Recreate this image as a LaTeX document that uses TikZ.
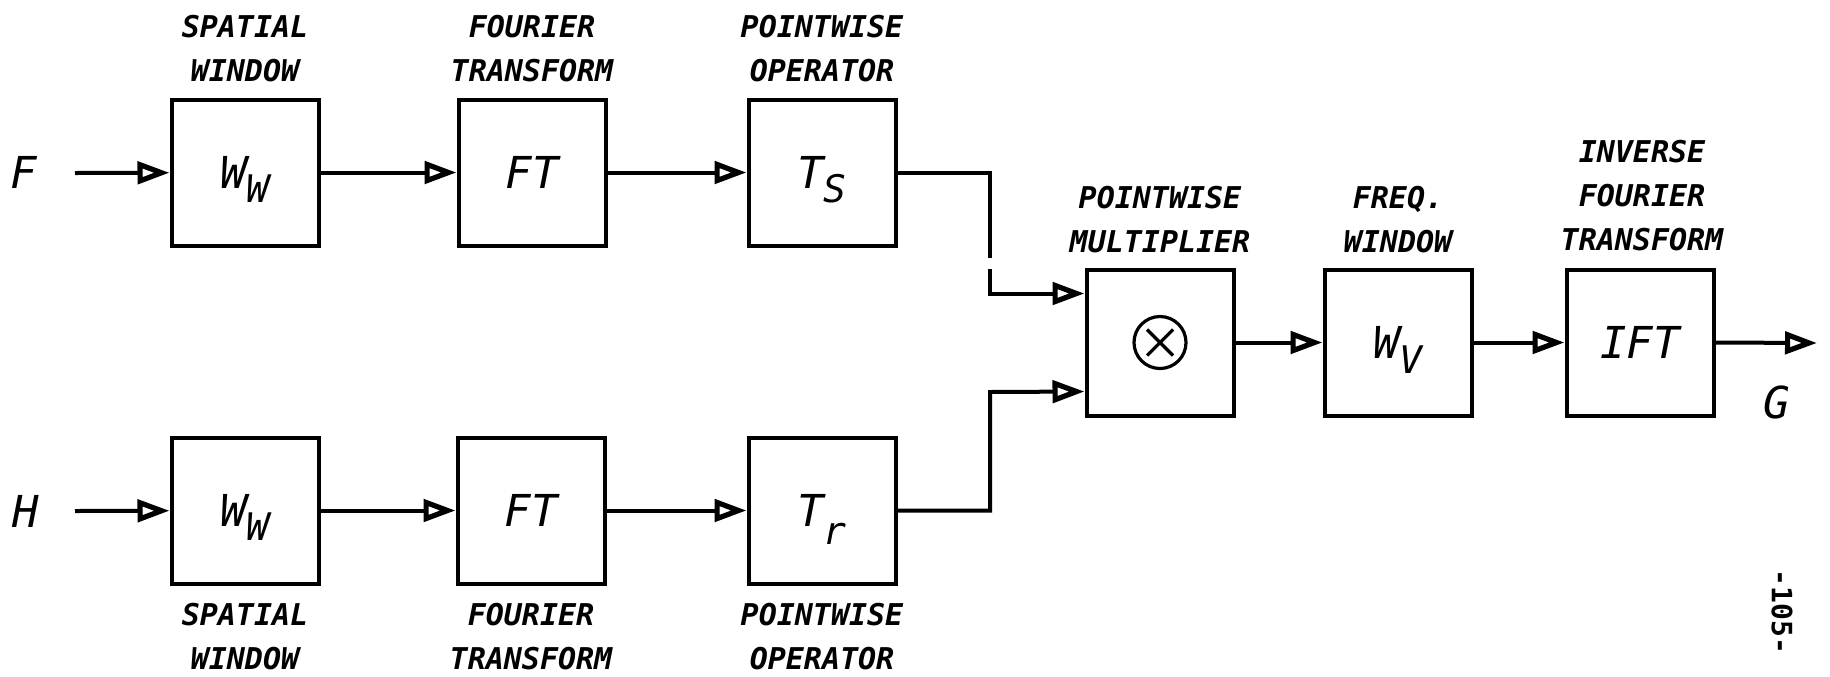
\documentclass[tikz,border=0pt]{standalone}
\usepackage{fontspec}
\usetikzlibrary{arrows.meta,calc}
\newfontfamily\monofam{DejaVu Sans Mono}
\newcommand\lblfnt{\monofam\bfseries\itshape\fontsize{15pt}{22pt}\selectfont}
\newcommand\bigfnt{\monofam\itshape\fontsize{22pt}{26pt}\selectfont}
\newcommand\subfnt{\monofam\itshape\fontsize{19pt}{22pt}\selectfont}
% lowered index that does not change the height of the main letter
\newcommand\lowidx[2][7pt]{\smash{\raisebox{-#1}{\subfnt #2}}}

\tikzset{
  blk/.style={draw, line width=2pt, minimum width=73.5pt, minimum height=73pt,
              inner sep=0pt, font=\bigfnt},
  lbl/.style={font=\lblfnt, align=center, inner sep=0pt},
  sig/.style={font=\bigfnt, inner sep=0pt},
  wire/.style={line width=2pt},
  conn/.style={wire, -{Triangle[open, length=16pt, width=11pt, line width=2.6pt 0]}},
}

\begin{document}
\begin{tikzpicture}[x=0.5pt, y=-0.5pt]
\useasboundingbox (0,0) rectangle (1830,676);

% upper branch
\node[blk] (ww1) at (245,172.5) {W\lowidx{W}};
\node[blk] (ft1) at (532,172.5) {FT};
\node[blk] (ts)  at (822,172.5) {T\lowidx{S}};
% lower branch
\node[blk] (ww2) at (245,510.5) {W\lowidx{W}};
\node[blk] (ft2) at (531,510.5) {FT};
\node[blk] (tr)  at (822,510.5) {T\lowidx[9pt]{r}};
% common part
\node[blk] (mul) at (1160,342.5) {};
\node[blk] (wv)  at (1398,342.5) {W\lowidx[7.5pt]{V}};
\node[blk] (ift) at (1640,342.5) {IFT};

% multiplication sign
\draw[line width=1.6pt] (mul.center) circle[radius=13pt];
\draw[line width=1.6pt] ($(mul.center)+(-6.5pt,-6.5pt)$) -- ($(mul.center)+(6.5pt,6.5pt)$)
                        ($(mul.center)+(-6.5pt,6.5pt)$) -- ($(mul.center)+(6.5pt,-6.5pt)$);

% block captions
\node[lbl] (c1) at (245,48.5)  {SPATIAL\\WINDOW};
\node[lbl] (c2) at (532,48.5)  {FOURIER\\TRANSFORM};
\node[lbl] (c3) at (822,48.5)  {POINTWISE\\OPERATOR};
\node[lbl] (c4) at (245,637)   {SPATIAL\\WINDOW};
\node[lbl] (c5) at (531,637)   {FOURIER\\TRANSFORM};
\node[lbl] (c6) at (822,637)   {POINTWISE\\OPERATOR};
\node[lbl] (c7) at (1160,219.5) {POINTWISE\\MULTIPLIER};
\node[lbl] (c8) at (1398,219.5) {FREQ.\\WINDOW};
\node[lbl] (c9) at (1642,196)   {INVERSE\\FOURIER\\TRANSFORM};

% signals
\node[sig] (fl) at (24,172) {F};
\node[sig] (hl) at (26,511) {H};
\node[sig] (gl) at (1777,402) {G};

\coordinate (fin)  at (75,173);
\coordinate (hin)  at (75,511);
\coordinate (jt1)  at (990,258);
\coordinate (jt2)  at (990,269);
\coordinate (jb)   at (990,392);
\coordinate (gout) at (1817,343);

% connections
\draw[conn] (fin) -- (ww1);
\draw[conn] (ww1) -- (ft1);
\draw[conn] (ft1) -- (ts);
\draw[conn] (hin) -- (ww2);
\draw[conn] (ww2) -- (ft2);
\draw[conn] (ft2) -- (tr);
\draw[wire] (ts.east) -| (jt1);
\draw[conn] (jt2) |- ([yshift=24.5pt]mul.west);
\draw[conn] (tr.east) -| (jb) -- ([yshift=-24.5pt]mul.west);
\draw[conn] (mul) -- (wv);
\draw[conn] (wv) -- (ift);
\draw[conn] (ift.east) -- (gout);

% page number
\node[font=\monofam\bfseries\fontsize{14pt}{16pt}\selectfont, rotate=-90, inner sep=0pt] (pg) at (1782,612) {-105-};
\end{tikzpicture}
\end{document}
